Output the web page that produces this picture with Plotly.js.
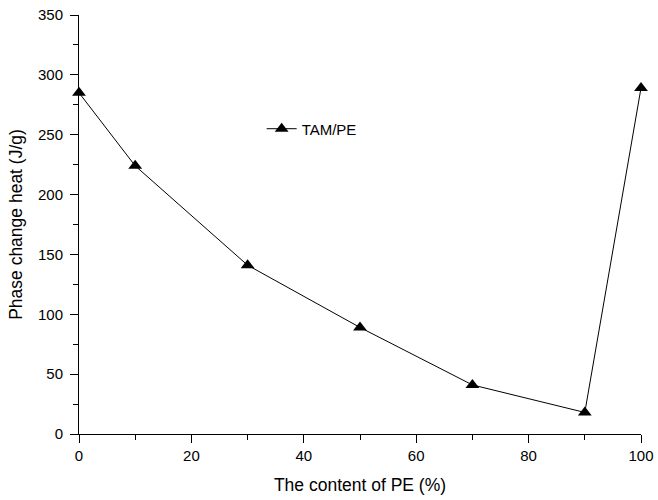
<!DOCTYPE html>
<html>
<head>
<meta charset="utf-8">
<script src="https://cdn.plot.ly/plotly-3.0.1.min.js"></script>
<style>html,body{margin:0;padding:0;background:#fff;}#chart{width:658px;height:500px;}</style>
</head>
<body>
<div id="chart"></div>
<script>
const peContent = [0, 10, 30, 50, 70, 90, 100];
const heat = [285, 224, 141, 89, 41, 18, 289];
const seriesName = 'TAM/PE';
const xTitle = 'The content of PE (%)';
const yTitle = 'Phase change heat (J/g)';

const font = {family: 'Liberation Sans, Arial, sans-serif', color: '#000'};

Plotly.newPlot('chart', [{
  x: peContent,
  y: heat,
  name: seriesName,
  type: 'scatter',
  mode: 'lines+markers',
  cliponaxis: false,
  line: {color: '#000', width: 1},
  marker: {symbol: 'triangle-up', size: 12, color: '#000'}
}], {
  width: 658, height: 500,
  margin: {l: 79, r: 17, t: 15, b: 66},
  paper_bgcolor: '#fff', plot_bgcolor: '#fff',
  font: Object.assign({size: 15}, font),
  showlegend: true,
  legend: {x: 0.325, y: 0.728, xanchor: 'left', yanchor: 'middle', bgcolor: 'rgba(0,0,0,0)', font: {size: 15}, itemwidth: 30},
  xaxis: {
    range: [0, 100], tickvals: [0, 20, 40, 60, 80, 100],
    showgrid: false, zeroline: false, showline: true, linecolor: '#000', linewidth: 1,
    ticks: 'outside', ticklen: 8, tickcolor: '#000',
    minor: {dtick: 10, ticks: 'outside', ticklen: 5, tickcolor: '#000', showgrid: false},
    title: {text: xTitle, font: {size: 17.5}, standoff: 15}
  },
  yaxis: {
    range: [0, 350], tickvals: [0, 50, 100, 150, 200, 250, 300, 350],
    showgrid: false, zeroline: false, showline: true, linecolor: '#000', linewidth: 1,
    ticks: 'outside', ticklen: 8, tickcolor: '#000', ticklabelstandoff: 4,
    minor: {dtick: 25, ticks: 'outside', ticklen: 5, tickcolor: '#000', showgrid: false},
    title: {text: yTitle, font: {size: 17.5}, standoff: 10}
  }
}, {displayModeBar: false, staticPlot: true});
</script>
</body>
</html>
